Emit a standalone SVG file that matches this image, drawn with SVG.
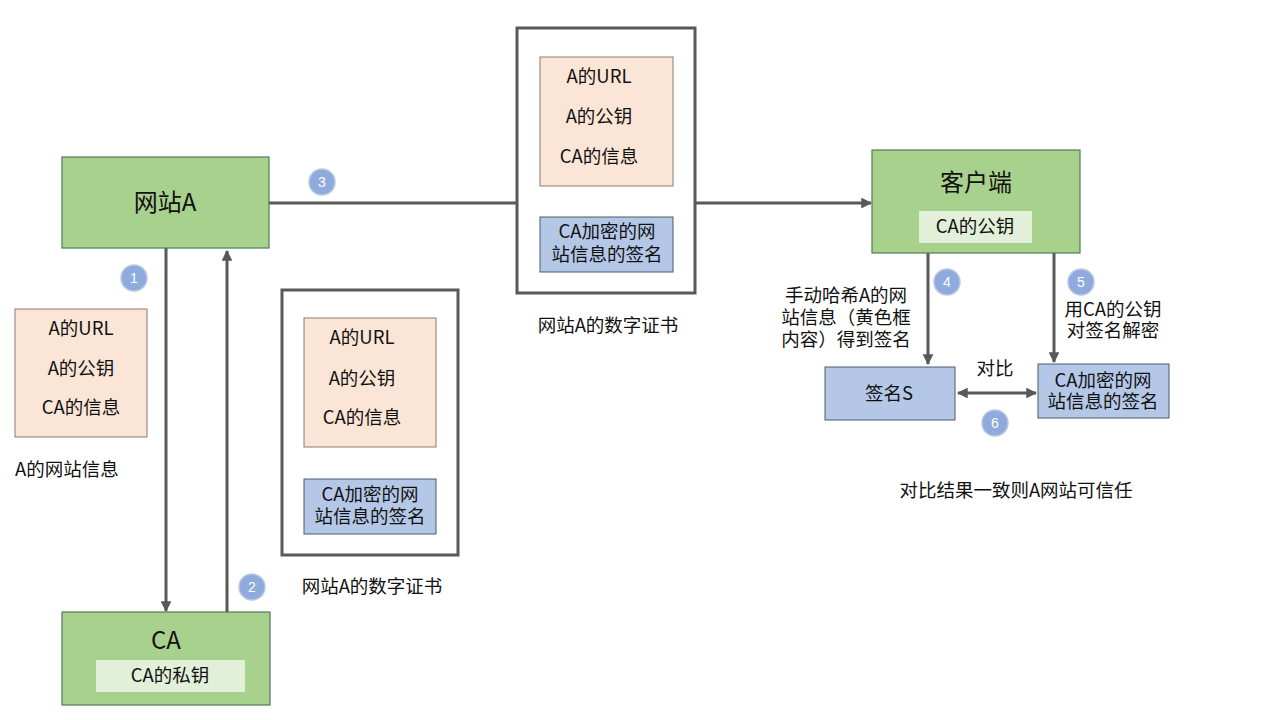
<svg xmlns="http://www.w3.org/2000/svg" width="1280" height="720" viewBox="0 0 1280 720">
<defs>
<style>
text{font-family:"Noto Sans CJK SC","Liberation Sans",sans-serif;fill:#111;text-anchor:middle}
.t{font-size:18.5px}
.big{font-size:24px}
.green{fill:#A9D18E;stroke:#4E7A5A;stroke-width:1.2}
.light{fill:#E2F0D9;stroke:none}
.pink{fill:#FBE5D6;stroke:#8C7A70;stroke-width:1}
.blue{fill:#B4C7E7;stroke:#4A5A6A;stroke-width:1}
.cert{fill:#fff;stroke:#595959;stroke-width:3}
.ln{stroke:#595959;stroke-width:3;fill:none}
.badge circle{fill:#8FAADC;stroke:#B8C8E0;stroke-width:1.5}
.badge text{fill:#fff;font-size:14px;font-family:"Liberation Sans",sans-serif}
</style>
<marker id="ah" viewBox="0 0 10 10" refX="9" refY="5" markerWidth="3.6" markerHeight="3.6" orient="auto-start-reverse" markerUnits="strokeWidth">
<path d="M0,0 L10,5 L0,10 z" fill="#595959"/>
</marker>
</defs>
<rect width="1280" height="720" fill="#fff"/>

<g id="connectors">
<line class="ln" x1="166" y1="248" x2="166" y2="611" marker-end="url(#ah)"/>
<line class="ln" x1="227" y1="612" x2="227" y2="251" marker-end="url(#ah)"/>
<line class="ln" x1="269" y1="203" x2="517" y2="203"/>
<line class="ln" x1="695" y1="203" x2="871" y2="203" marker-end="url(#ah)"/>
<line class="ln" x1="928" y1="253" x2="928" y2="364" marker-end="url(#ah)"/>
<line class="ln" x1="1054" y1="253" x2="1054" y2="362" marker-end="url(#ah)"/>
<line class="ln" x1="958" y1="393" x2="1036" y2="393" marker-start="url(#ah)" marker-end="url(#ah)"/>
</g>

<g id="siteA">
<rect class="green" x="62" y="157" width="207" height="91"/>
<text class="big" x="165" y="211">网站A</text>
</g>

<g id="siteInfo">
<rect class="pink" x="15" y="309" width="132" height="128"/>
<text class="t" x="81" y="335">A的URL</text>
<text class="t" x="81" y="375">A的公钥</text>
<text class="t" x="81" y="414">CA的信息</text>
<text class="t" x="15" y="476" style="text-anchor:start">A的网站信息</text>
</g>

<g id="ca">
<rect class="green" x="62" y="612" width="208" height="93"/>
<text class="big" x="166" y="649">CA</text>
<rect class="light" x="96" y="660" width="149" height="32"/>
<text class="t" x="170" y="682">CA的私钥</text>
</g>

<g id="cert1">
<rect class="cert" x="282" y="290" width="176" height="265"/>
<rect class="pink" x="304" y="318" width="132" height="129"/>
<text class="t" x="362" y="344">A的URL</text>
<text class="t" x="362" y="385">A的公钥</text>
<text class="t" x="362" y="424">CA的信息</text>
<rect class="blue" x="304" y="479" width="132" height="55"/>
<text class="t" x="370" y="501">CA加密的网<tspan x="370" dy="22">站信息的签名</tspan></text>
<text class="t" x="372" y="593">网站A的数字证书</text>
</g>

<g id="cert2">
<rect class="cert" x="517" y="28" width="178" height="265"/>
<rect class="pink" x="540" y="57" width="133" height="129"/>
<text class="t" x="599" y="83">A的URL</text>
<text class="t" x="599" y="123">A的公钥</text>
<text class="t" x="599" y="163">CA的信息</text>
<rect class="blue" x="540" y="217" width="133" height="55"/>
<text class="t" x="607" y="238">CA加密的网<tspan x="607" dy="23">站信息的签名</tspan></text>
<text class="t" x="608" y="332">网站A的数字证书</text>
</g>

<g id="client">
<rect class="green" x="872" y="150" width="208" height="103"/>
<text class="big" x="976" y="191">客户端</text>
<rect class="light" x="919" y="211" width="113" height="32"/>
<text class="t" x="975" y="233">CA的公钥</text>
</g>

<g id="step4label">
<text class="t" x="846" y="302">手动哈希A的网<tspan x="846" dy="22">站信息（黄色框</tspan><tspan x="846" dy="22">内容）得到签名</tspan></text>
</g>

<g id="step5label">
<text class="t" x="1113" y="316">用CA的公钥<tspan x="1113" dy="21">对签名解密</tspan></text>
</g>

<g id="sigS">
<rect class="blue" x="825" y="367" width="130" height="53"/>
<text class="t" x="889" y="400">签名S</text>
</g>

<g id="sigCA">
<rect class="blue" x="1038" y="364" width="131" height="54"/>
<text class="t" x="1103" y="387">CA加密的网<tspan x="1103" dy="21">站信息的签名</tspan></text>
</g>

<g id="compare">
<text class="t" x="995" y="375">对比</text>
<text class="t" x="1016" y="497">对比结果一致则A网站可信任</text>
</g>

<g id="badges" style="dominant-baseline:central">
<g class="badge"><circle cx="134" cy="278" r="13"/><text x="134" y="278" dominant-baseline="central">1</text></g>
<g class="badge"><circle cx="252" cy="587" r="13"/><text x="252" y="587" dominant-baseline="central">2</text></g>
<g class="badge"><circle cx="322" cy="182" r="13"/><text x="322" y="182" dominant-baseline="central">3</text></g>
<g class="badge"><circle cx="947" cy="282" r="13"/><text x="947" y="282" dominant-baseline="central">4</text></g>
<g class="badge"><circle cx="1081" cy="282" r="13"/><text x="1081" y="282" dominant-baseline="central">5</text></g>
<g class="badge"><circle cx="995" cy="423" r="13"/><text x="995" y="423" dominant-baseline="central">6</text></g>
</g>
</svg>
